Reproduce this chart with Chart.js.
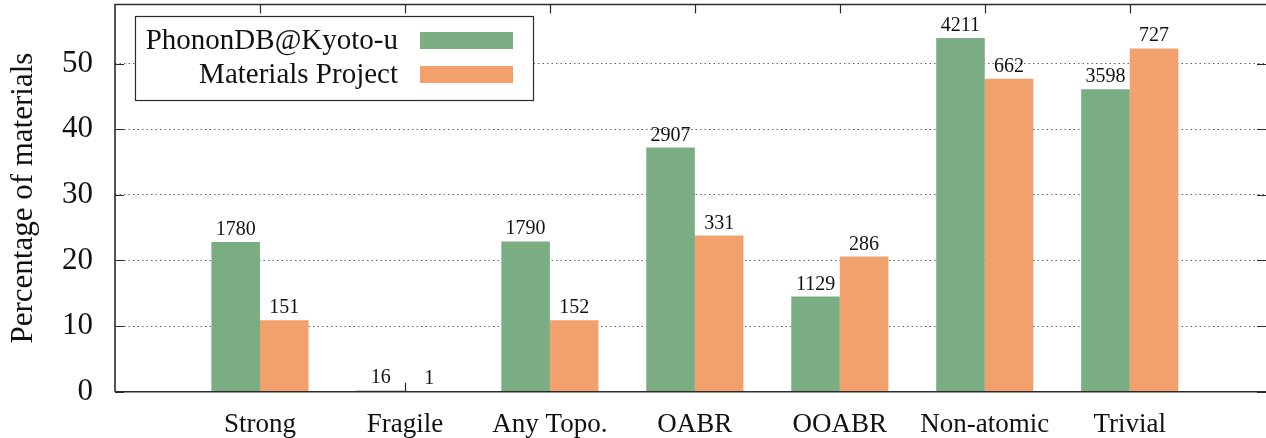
<!DOCTYPE html>
<html><head><meta charset="utf-8">
<script src="https://cdn.jsdelivr.net/npm/chart.js@4"></script>
<style>html,body{margin:0;padding:0;background:#fff;overflow:hidden}canvas{display:block}</style>
</head><body>
<canvas id="c" width="1266" height="438"></canvas>
<script>
const categories = ['Strong','Fragile','Any Topo.','OABR','OOABR','Non-atomic','Trivial'];
const seriesNames = ['PhononDB@Kyoto-u','Materials Project'];
const phononPct = [22.8, 0.2, 22.9, 37.2, 14.5, 53.9, 46.1];
const mpPct = [10.9, 0.1, 10.9, 23.8, 20.6, 47.7, 52.3];
const phononCounts = [1780, 16, 1790, 2907, 1129, 4211, 3598];
const mpCounts = [151, 1, 152, 331, 286, 662, 727];
const yTicks = [0, 10, 20, 30, 40, 50];

const GREEN = '#7aae82';
const ORANGE = '#f3a16c';
const FONT = '"Liberation Serif", "Times New Roman", serif';
const AX = '#2b2b2b';
const TXT = '#111';

const framePlugin = {
  id: 'frame',
  beforeDatasetsDraw(chart) {
    const {ctx, chartArea: a, scales: {x, y}} = chart;
    ctx.save();
    ctx.strokeStyle = AX; ctx.lineWidth = 1.2;
    ctx.beginPath();
    categories.forEach((c, i) => {
      const px = Math.round(x.getPixelForValue(i + 1)) + 0.5;
      ctx.moveTo(px, a.top); ctx.lineTo(px, a.top + 9);
      ctx.moveTo(px, a.bottom); ctx.lineTo(px, a.bottom - 9);
    });
    yTicks.forEach(v => {
      const py = Math.round(y.getPixelForValue(v)) + 0.5;
      ctx.moveTo(a.left, py); ctx.lineTo(a.left + 9, py);
      ctx.moveTo(a.right, py); ctx.lineTo(a.right - 9, py);
    });
    ctx.stroke();
    ctx.restore();
  },
  afterDatasetsDraw(chart) {
    const {ctx, chartArea: a} = chart;
    ctx.save();
    ctx.strokeStyle = AX; ctx.lineWidth = 1.6;
    ctx.beginPath();
    ctx.moveTo(a.left, a.bottom); ctx.lineTo(a.left, a.top); ctx.lineTo(a.right + 2, a.top);
    ctx.moveTo(a.left, a.bottom); ctx.lineTo(a.right + 2, a.bottom);
    ctx.stroke();
    ctx.fillStyle = TXT;
    ctx.font = '20px ' + FONT;
    ctx.textAlign = 'center'; ctx.textBaseline = 'alphabetic';
    const counts = [phononCounts, mpCounts];
    chart.data.datasets.forEach((ds, di) => {
      const meta = chart.getDatasetMeta(di);
      meta.data.forEach((bar, i) => {
        ctx.fillText(String(counts[di][i]), bar.x, bar.y - 7);
      });
    });
    const lx = 135, ly = 16, lw = 398, lh = 84;
    ctx.fillStyle = '#fff';
    ctx.fillRect(lx, ly, lw, lh);
    ctx.strokeStyle = AX; ctx.lineWidth = 1.2;
    ctx.strokeRect(lx + 0.5, ly + 0.5, lw, lh);
    ctx.font = '29px ' + FONT;
    ctx.textAlign = 'right';
    ctx.fillStyle = TXT;
    ctx.fillText(seriesNames[0], 398, 49);
    ctx.fillText(seriesNames[1], 398, 83);
    ctx.fillStyle = GREEN; ctx.fillRect(420, 32, 93, 17);
    ctx.fillStyle = ORANGE; ctx.fillRect(420, 66, 93, 17);
    ctx.restore();
  }
};

function noPad(s) { s.paddingTop = 0; s.paddingBottom = 0; s.paddingLeft = 0; s.paddingRight = 0; }

new Chart(document.getElementById('c').getContext('2d'), {
  type: 'bar',
  data: {
    datasets: [
      {label: seriesNames[0], data: phononPct.map((v, i) => ({x: i + 1, y: v})), backgroundColor: GREEN, borderWidth: 0},
      {label: seriesNames[1], data: mpPct.map((v, i) => ({x: i + 1, y: v})), backgroundColor: ORANGE, borderWidth: 0}
    ]
  },
  options: {
    responsive: false,
    animation: false,
    devicePixelRatio: 1,
    layout: {padding: {top: 4.5, right: 0, left: 0, bottom: 0}},
    plugins: {legend: {display: false}, tooltip: {enabled: false}},
    datasets: {bar: {categoryPercentage: 0.67, barPercentage: 1}},
    scales: {
      x: {
        type: 'linear', min: 0, max: 7.94, offset: false,
        grid: {display: false, drawTicks: false, offset: false},
        border: {display: false},
        afterBuildTicks: s => { s.ticks = categories.map((c, i) => ({value: i + 1})); },
        afterFit: s => { s.height = 46.3; noPad(s); },
        ticks: {
          callback: v => categories[v - 1] ?? '',
          font: {family: FONT, size: 27}, color: TXT, padding: 17,
          maxRotation: 0, minRotation: 0, autoSkip: false
        }
      },
      y: {
        min: 0, max: 59,
        afterBuildTicks: s => { s.ticks = yTicks.map(v => ({value: v})); },
        afterFit: s => { s.width = 115; noPad(s); },
        grid: {
          drawTicks: false,
          color: c => (c.tick && c.tick.value === 0) ? 'rgba(0,0,0,0)' : '#666',
          lineWidth: 1
        },
        border: {display: false, dash: [1.5, 3]},
        ticks: {font: {family: FONT, size: 31}, color: TXT, padding: 22},
        title: {display: true, text: 'Percentage of materials', font: {family: FONT, size: 31}, color: TXT, padding: {top: 5, bottom: 0}}
      }
    }
  },
  plugins: [framePlugin]
});
</script>
</body></html>
